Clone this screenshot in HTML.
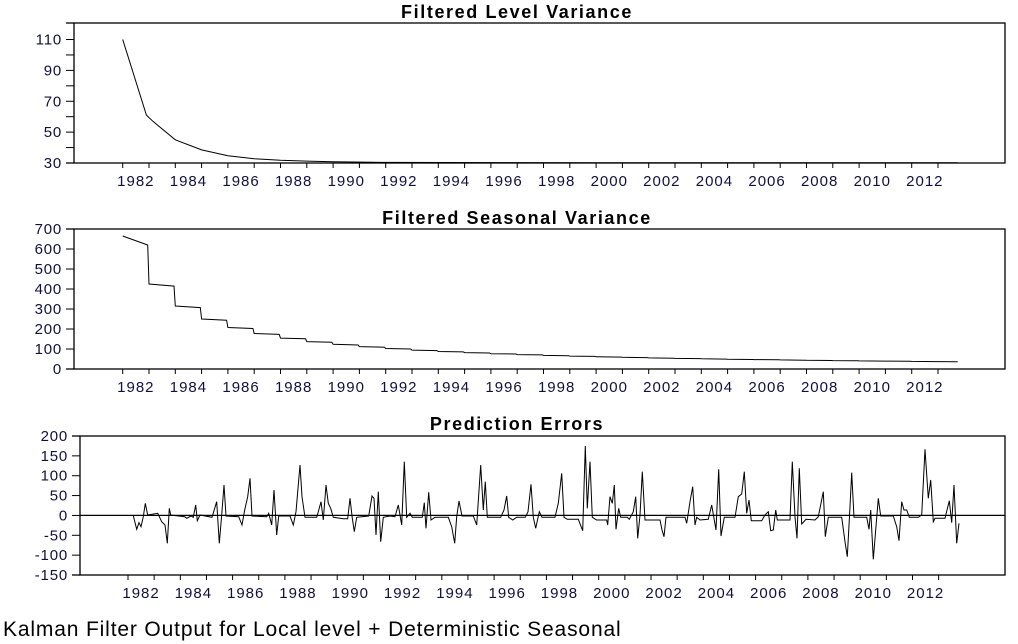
<!DOCTYPE html>
<html><head><meta charset="utf-8">
<style>
html,body{margin:0;padding:0;background:#fff;}
svg{display:block;font-family:"Liberation Sans",Arial,sans-serif;}
</style></head>
<body>
<svg id="s" width="1018" height="644" viewBox="0 0 1018 644" xmlns="http://www.w3.org/2000/svg">
<text x="517" y="18" text-anchor="middle" font-size="18" font-weight="bold" letter-spacing="1.6">Filtered Level Variance</text>
<text x="517" y="224" text-anchor="middle" font-size="18" font-weight="bold" letter-spacing="1.6">Filtered Seasonal Variance</text>
<text x="517" y="430" text-anchor="middle" font-size="18" font-weight="bold" letter-spacing="1.6">Prediction Errors</text>
<text x="3" y="636" font-size="21" letter-spacing="0.85">Kalman Filter Output for Local level + Deterministic Seasonal</text>
</svg>
<script>
var s=document.getElementById('s'),NS='http://www.w3.org/2000/svg';
function el(t,a,txt){var e=document.createElementNS(NS,t);for(var k in a)e.setAttribute(k,a[k]);if(txt!==undefined)e.textContent=txt;s.appendChild(e);return e;}
function panel(L,T,B,R,x82,dx,ticks,labels,vmin,vmax){
  el('rect',{x:L,y:T,width:R-L,height:B-T,fill:'none',stroke:'#000','stroke-width':1.3});
  el('line',{x1:L-8,y1:T,x2:L,y2:T,stroke:'#000','stroke-width':1.3});
  el('line',{x1:L-8,y1:B,x2:L,y2:B,stroke:'#000','stroke-width':1.3});
  ticks.forEach(function(v){var y=B-(v-vmin)/(vmax-vmin)*(B-T);
    el('line',{x1:L-8,y1:y,x2:L,y2:y,stroke:'#000','stroke-width':1});
    if(labels.indexOf(v)>=0)el('text',{x:L-12,y:y+5,'text-anchor':'end','font-size':15,'letter-spacing':0.8,fill:'#101040'},String(v));});
  for(var yr=1982;yr<=2013;yr++){var x=x82+(yr-1982)*dx;
    el('line',{x1:x,y1:B,x2:x,y2:B+5,stroke:'#000','stroke-width':1});
    if(yr%2==0)el('text',{x:x+dx/2,y:B+23,'text-anchor':'middle','font-size':15,'letter-spacing':1,fill:'#101040'},String(yr));}
}
panel(74,23,163,1005,122.7,26.3,[30,40,50,60,70,80,90,100,110],[30,50,70,90,110],30,120.7);
panel(74,229,369,1005,122.7,26.3,[0,100,200,300,400,500,600,700],[0,100,200,300,400,500,600,700],0,700);
panel(80,436,575,1005,128,26.15,[-150,-100,-50,0,50,100,150,200],[-150,-100,-50,0,50,100,150,200],-150,200);
var p1=[[1982,110],[1982.9,61],[1983.15,57],[1984,45],[1985,38.5],[1986,34.7],[1987,32.8],[1988,31.8],[1989,31.2],[1990,30.8],[1992,30.4],[2000,30.2],[2013.75,30.1]];
el('path',{d:'M'+p1.map(function(p){return (122.7+(p[0]-1982)*26.3).toFixed(1)+','+(163-(p[1]-30)*1.544).toFixed(1);}).join(' L'),fill:'none',stroke:'#000','stroke-width':1});
var d=[];function X(t){return 122.7+(t-1982)*26.3;}function Y(v){return 369-v*0.2;}
d.push([X(1982),Y(665)]);d.push([X(1982.95),Y(620)]);
for(var k=1;k<=31;k++){var v=1216/(k+1.86);var t0=1982+k,t1=Math.min(t0+0.95,2013.75);
  d.push([X(t0),Y(v)]);d.push([X(t1),Y(v*0.975)]);if(t1>=2013.75)break;}
el('path',{d:'M'+d.map(function(p){return p[0].toFixed(1)+','+p[1].toFixed(1);}).join(' L'),fill:'none',stroke:'#000','stroke-width':1});
el('line',{x1:80,y1:515.4,x2:1005,y2:515.4,stroke:'#000','stroke-width':1.2});
var g6=[160,257,170,298,177,278,183,290,190,260,196,220,203,255,233,250,245,275,255,285,262,340,268,235,272,255,314,260,320,265,333,258,340,262,347,225,352,272,360,255,396,262,410,215,418,340,425,255,432,165,438,258,476,260,486,285,494,240,503,200,510,145,516,258,560,260,566,250,575,285,582,180,590,315,596,258,630,258,640,285,648,245,660,105,666,200,675,262,710,262,715,245,723,215,730,270,738,165,745,220,752,235,760,262,790,266,803,266,810,205,817,265,823,305,830,262,866,258,876,198,882,205,888,315,895,185,902,335,910,262,930,258];
var g7=[0,300,5,335,10,262,45,260,55,225,65,285,73,95,80,262,90,250,97,262,127,262,133,218,138,295,146,187,153,270,165,262,205,262,215,290,224,340,230,260,237,213,246,258,280,258,290,285,302,105,310,240,316,155,322,262,362,262,372,240,380,198,386,262,398,270,410,262,436,262,444,245,453,163,460,262,467,295,478,245,486,262,525,262,535,220,545,130,552,262,562,268,595,268,608,302,616,48,622,235,630,95,637,262,650,270,680,270,683,285,690,200,697,220,703,165,708,298,716,235,722,262,742,262,748,268,760,245,767,200,773,325,780,255,787,125,795,270,810,270,840,270,846,300,852,320,858,262,915,262,920,280,930,215];
var g8=[0,262,18,280,25,230,38,170,45,285,50,262,60,270,85,268,95,225,108,300,116,118,123,318,133,262,165,262,175,200,185,192,193,125,200,250,207,210,214,272,245,272,255,255,265,245,272,302,280,300,287,240,292,270,330,270,337,95,345,260,351,325,358,115,365,282,378,268,405,270,415,260,430,185,436,320,445,262,485,262,495,335,502,380,510,230,515,128,522,262,560,262,567,298,572,240,580,388,587,300,595,205,602,258,640,258,650,290,657,332,665,215,672,240,680,240,688,262,715,262,725,255,735,58,745,205,752,150,760,275,765,265,795,265,808,212,815,278,822,165,830,340,837,280];
var pts=[];function add(g,ox){for(var i=0;i<g.length;i+=2){var x=ox+g[i]/3;if(pts.length&&x<=pts[pts.length-1][0])continue;pts.push([x,430+g[i+1]/3]);}}
add(g6,80);add(g7,380);add(g8,680);
el('path',{d:'M'+pts.map(function(p){return p[0].toFixed(1)+','+p[1].toFixed(1);}).join(' L'),fill:'none',stroke:'#000','stroke-width':1});
</script>
</body></html>
